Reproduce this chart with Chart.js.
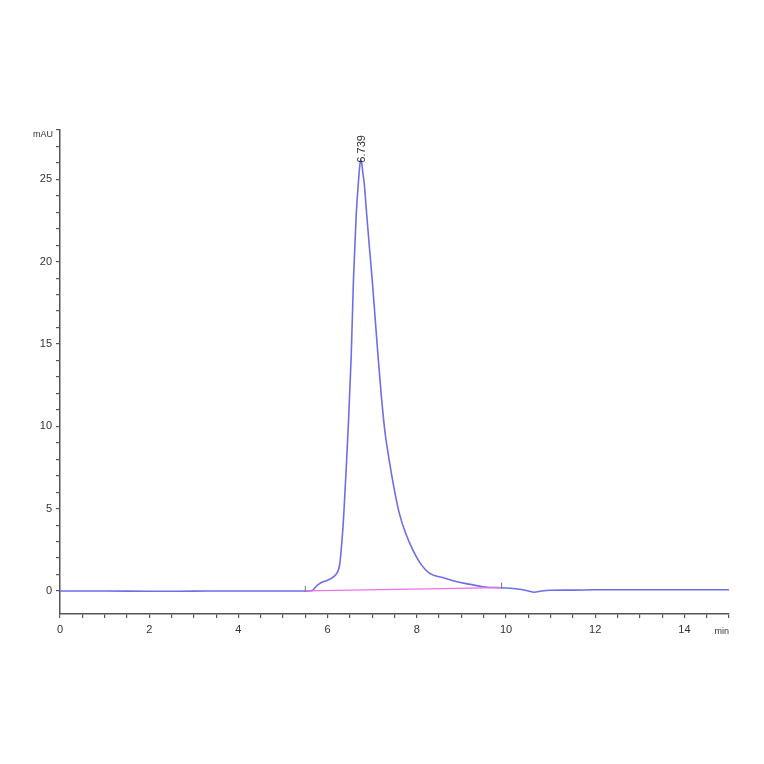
<!DOCTYPE html>
<html>
<head>
<meta charset="utf-8">
<script src="https://cdn.jsdelivr.net/npm/chart.js@4.4.0/dist/chart.umd.min.js"></script>
<style>
html,body{margin:0;padding:0;background:#fff;}
#wrap{width:764px;height:764px;}
</style>
</head>
<body>
<div id="wrap"><canvas id="c" width="764" height="764"></canvas></div>
<script>
// Chromatogram trace (time in min, signal in mAU)
const times = [0, 1, 2, 3, 4, 5, 5.5, 5.65, 5.75, 5.85, 6.0, 6.1, 6.2, 6.27, 6.34, 6.38, 6.42, 6.46, 6.53, 6.58, 6.64, 6.69, 6.72, 6.745, 6.77, 6.79, 6.82, 6.88, 6.94, 7.0, 7.065, 7.13, 7.2, 7.28, 7.39, 7.5, 7.61, 7.75, 7.91, 8.1, 8.28, 8.6, 8.88, 9.2, 9.48, 9.8, 10.0, 10.3, 10.5, 10.63, 10.8, 11.0, 11.5, 12, 13, 14, 15];
const signal = [0, 0, -0.02, -0.01, 0, 0, 0, 0.02, 0.3, 0.5, 0.65, 0.8, 1.05, 1.6, 3.7, 5.5, 7.6, 9.8, 14.3, 18.9, 22.75, 24.8, 25.8, 26.2, 25.9, 25.4, 24.8, 22.75, 20.8, 18.9, 16.6, 14.3, 12.0, 9.8, 7.8, 6.1, 4.7, 3.5, 2.5, 1.6, 1.08, 0.8, 0.57, 0.4, 0.26, 0.2, 0.18, 0.1, 0.0, -0.08, 0.0, 0.04, 0.05, 0.07, 0.07, 0.07, 0.07];
// Integration baseline
const baseTimes = [5.5, 9.9];
const baseValues = [0, 0.2];
// Peak annotation
const peakTime = 6.739;
const peakValue = 26.2;
const peakLabel = "6.739";
// Axis settings
const xMin = 0, xMax = 15, xStep = 0.5, xLabelEvery = 2;
const yMin = -1.4, yMax = 28, yStep = 1, yLabelEvery = 5;
const yUnit = "mAU", xUnit = "min";

const trace = times.map((t, i) => ({x: t, y: signal[i]}));
const base = baseTimes.map((t, i) => ({x: t, y: baseValues[i]}));

const FONT = "'Liberation Sans', Arial, sans-serif";
const AXIS = '#555';

const annot = {
  id: 'annot',
  afterDatasetsDraw(chart) {
    const ctx = chart.ctx, xs = chart.scales.x, ys = chart.scales.y, ca = chart.chartArea;
    // baseline start/end markers
    ctx.save();
    ctx.strokeStyle = '#777';
    ctx.lineWidth = 1;
    baseTimes.forEach((t, i) => {
      const bx = xs.getPixelForValue(t), by = ys.getPixelForValue(baseValues[i]);
      ctx.beginPath();
      ctx.moveTo(bx, by - 5);
      ctx.lineTo(bx, by + 1);
      ctx.stroke();
    });
    ctx.restore();
    // peak label
    ctx.save();
    ctx.fillStyle = '#333';
    ctx.font = '11px ' + FONT;
    const px = xs.getPixelForValue(peakTime), py = ys.getPixelForValue(peakValue);
    ctx.translate(px + 1, py + 3);
    ctx.rotate(-Math.PI / 2);
    ctx.textAlign = 'left';
    ctx.textBaseline = 'middle';
    ctx.fillText(peakLabel, 0, 0);
    ctx.restore();
    // unit labels
    ctx.save();
    ctx.fillStyle = '#333';
    ctx.font = '9px ' + FONT;
    ctx.textAlign = 'right';
    ctx.textBaseline = 'middle';
    ctx.fillText(yUnit, ca.left - 7, ca.top + 5);
    ctx.fillText(xUnit, ca.right, ca.bottom + 18);
    ctx.restore();
  }
};

new Chart(document.getElementById('c'), {
  type: 'line',
  data: {
    datasets: [
      {data: base, borderColor: '#f070e6', borderWidth: 1.3, pointRadius: 0, tension: 0},
      {data: trace, borderColor: '#6e6ee8', borderWidth: 1.6, pointRadius: 0, cubicInterpolationMode: 'monotone'}
    ]
  },
  options: {
    responsive: false,
    animation: false,
    layout: {padding: {top: 130, right: 35, bottom: 0, left: 0}},
    plugins: {legend: {display: false}, tooltip: {enabled: false}},
    scales: {
      x: {
        type: 'linear', min: xMin, max: xMax,
        afterFit(s) { s.height = 150; },
        afterBuildTicks(s) { s.ticks = s.ticks.filter(t => Math.abs(t.value / xStep - Math.round(t.value / xStep)) < 1e-6); },
        grid: {drawOnChartArea: false, drawTicks: true, tickLength: 4, color: AXIS, lineWidth: 1.2},
        border: {display: true, color: AXIS, width: 1.5},
        ticks: {
          stepSize: xStep, autoSkip: false, maxRotation: 0, padding: 5,
          color: '#333', font: {family: FONT, size: 11},
          callback(v) { return (Math.abs(v % xLabelEvery) < 1e-6 && v < xMax) ? String(v) : ''; }
        }
      },
      y: {
        type: 'linear', min: yMin, max: yMax,
        afterFit(s) { s.width = 60; },
        afterBuildTicks(s) { s.ticks = s.ticks.filter(t => Math.abs(t.value / yStep - Math.round(t.value / yStep)) < 1e-6); },
        grid: {drawOnChartArea: false, drawTicks: true, tickLength: 4, color: AXIS, lineWidth: 1.2},
        border: {display: true, color: AXIS, width: 1.5},
        ticks: {
          stepSize: yStep, autoSkip: false, padding: 4,
          color: '#333', font: {family: FONT, size: 11},
          callback(v) { return (Math.abs(v % yLabelEvery) < 1e-6) ? String(v) : ''; }
        }
      }
    }
  },
  plugins: [annot]
});
</script>
</body>
</html>
